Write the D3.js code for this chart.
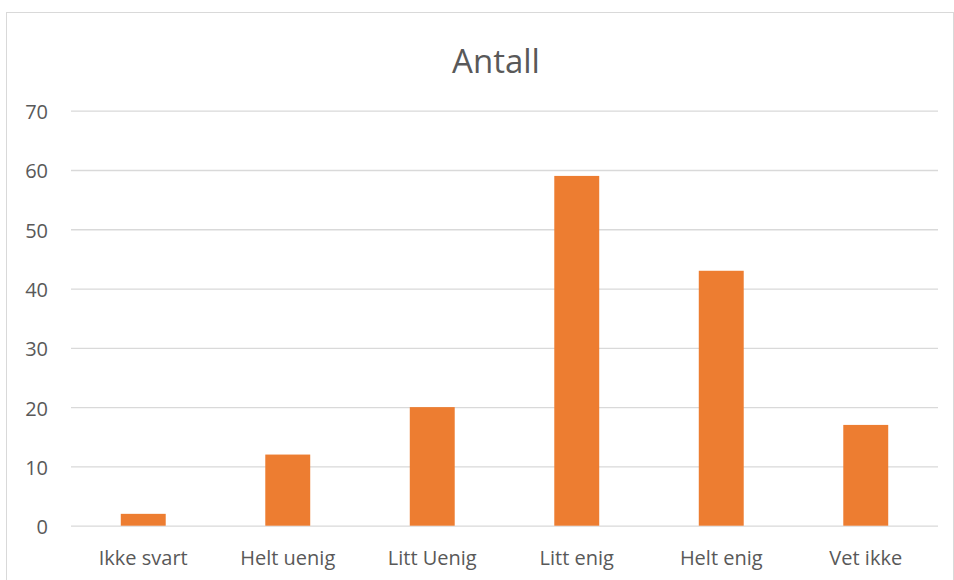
<!DOCTYPE html>
<html>
<head>
<meta charset="utf-8">
<script src="https://cdn.jsdelivr.net/npm/d3@7"></script>
<style>
  html, body { margin: 0; padding: 0; background: #fff; }
  svg { display: block; }
  text { font-family: "Open Sans", sans-serif; fill: #595959; }
</style>
</head>
<body>
<svg id="chart" width="954" height="580"></svg>
<script>
const categories = ["Ikke svart", "Helt uenig", "Litt Uenig", "Litt enig", "Helt enig", "Vet ikke"];
const values = [2, 12, 20, 59, 43, 17];
const yTicks = [0, 10, 20, 30, 40, 50, 60, 70];
const title = "Antall";

const svg = d3.select("#chart");

// chart area border
svg.append("rect")
  .attr("x", 6.5).attr("y", 12.5)
  .attr("width", 947).attr("height", 600)
  .attr("fill", "#fff").attr("stroke", "#d9d9d9").attr("stroke-width", 1);

const plot = { left: 71, right: 938, top: 110.7, bottom: 525.7 };

const x = d3.scaleBand()
  .domain(categories)
  .range([plot.left, plot.right])
  .paddingInner(0.689)
  .paddingOuter(0.689 / 2);

const y = d3.scaleLinear()
  .domain([0, 70])
  .range([plot.bottom, plot.top]);

// gridlines + y labels
const yAxis = d3.axisLeft(y)
  .tickValues(yTicks)
  .tickSize(-(plot.right - plot.left))
  .tickPadding(23)
  .tickFormat(d3.format("d"));

const gy = svg.append("g")
  .attr("transform", `translate(${plot.left},0)`)
  .call(yAxis);
gy.select(".domain").remove();
gy.selectAll(".tick line").attr("stroke", "#d9d9d9").attr("stroke-width", 1.3);
gy.selectAll(".tick text")
  .attr("font-size", 20)
  .attr("dy", "0.4em")
  .attr("fill", "#595959")
  .style("font-family", "'Open Sans', sans-serif");

// bars
svg.append("g").selectAll("rect")
  .data(values)
  .join("rect")
  .attr("x", (d, i) => x(categories[i]))
  .attr("y", d => y(d))
  .attr("width", x.bandwidth())
  .attr("height", d => y(0) - y(d))
  .attr("fill", "#ed7d31");

// x axis labels
const xAxis = d3.axisBottom(x).tickSize(0).tickPadding(0);
const gx = svg.append("g")
  .attr("transform", `translate(0,${plot.bottom})`)
  .call(xAxis);
gx.select(".domain").remove();
gx.selectAll(".tick text")
  .attr("y", 39.5)
  .attr("dy", 0)
  .attr("font-size", 20)
  .attr("fill", "#595959")
  .style("font-family", "'Open Sans', sans-serif");

// title
svg.append("text")
  .attr("x", 496)
  .attr("y", 73)
  .attr("text-anchor", "middle")
  .attr("font-size", 33)
  .attr("fill", "#595959")
  .text(title);
</script>
</body>
</html>
